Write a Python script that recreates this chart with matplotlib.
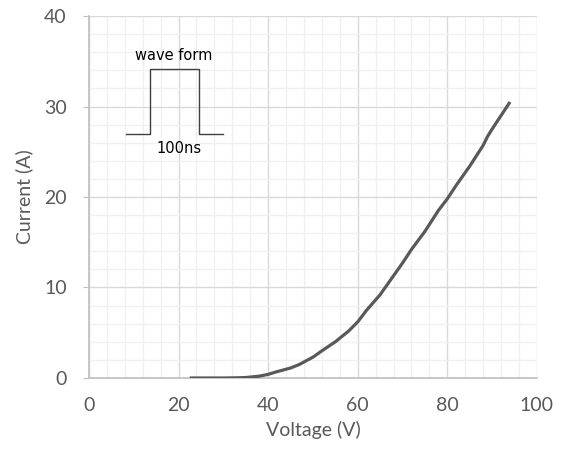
import matplotlib
matplotlib.use("Agg")
import matplotlib.pyplot as plt
from matplotlib.ticker import MultipleLocator

voltage = [22.5, 25, 28, 30, 33, 35, 38, 40, 42, 45, 47, 50, 52, 55, 58, 60, 62, 65, 68, 70, 72, 75, 78, 80, 82, 85, 88, 89, 90, 92, 94]
current = [0.0, 0.0, 0.0, 0.0, 0.02, 0.05, 0.2, 0.4, 0.7, 1.1, 1.5, 2.3, 3.0, 4.0, 5.2, 6.2, 7.5, 9.2, 11.3, 12.7, 14.2, 16.2, 18.5, 19.8, 21.3, 23.4, 25.7, 26.7, 27.5, 29.0, 30.5]

wave_x = [8.2, 13.6, 13.6, 24.6, 24.6, 29.9]
wave_y = [27.0, 27.0, 34.1, 34.1, 27.0, 27.0]

xticks = [0, 20, 40, 60, 80, 100]
yticks = [0, 10, 20, 30, 40]

fig = plt.figure(figsize=(5.61, 4.51), dpi=100)
ax = fig.add_axes([0.1586, 0.1619, 0.957 - 0.1586, 0.9645 - 0.1619])

ax.set_xlim(0, 100)
ax.set_ylim(0, 40)
ax.set_xticks(xticks)
ax.set_yticks(yticks)
ax.xaxis.set_minor_locator(MultipleLocator(4))
ax.yaxis.set_minor_locator(MultipleLocator(2))
ax.grid(which='major', color='#d9d9d9', linewidth=1.0, zorder=0)
ax.grid(which='minor', color='#f0f0f0', linewidth=1.0, zorder=0)
ax.set_axisbelow(True)

for s in ['top', 'right']:
    ax.spines[s].set_visible(False)
for s in ['left', 'bottom']:
    ax.spines[s].set_color('#bfbfbf')
    ax.spines[s].set_linewidth(1.2)

font = 'Lato'
ax.tick_params(axis='y', which='major', length=4, color='#bfbfbf', labelsize=14, labelcolor='#595959', pad=12)
ax.tick_params(axis='x', which='major', length=0, labelsize=14, labelcolor='#595959', pad=14)
ax.tick_params(which='minor', length=0)
for lab in ax.get_xticklabels() + ax.get_yticklabels():
    lab.set_fontfamily(font)

ax.plot(voltage, current, color='#595959', linewidth=2.3, zorder=3, solid_capstyle='butt')
ax.plot(wave_x, wave_y, color='#404040', linewidth=1.0, zorder=3)
ax.text(19.0, 35.6, 'wave form', ha='center', va='center', fontsize=10.5, family='DejaVu Sans', color='#000000')
ax.text(20.0, 25.4, '100ns', ha='center', va='center', fontsize=10.5, family='DejaVu Sans', color='#000000')

ax.set_xlabel('Voltage (V)', fontsize=14, color='#595959', family=font, labelpad=5)
ax.set_ylabel('Current (A)', fontsize=14, color='#595959', family=font, labelpad=8)

fig.savefig('out.png', dpi=100)
